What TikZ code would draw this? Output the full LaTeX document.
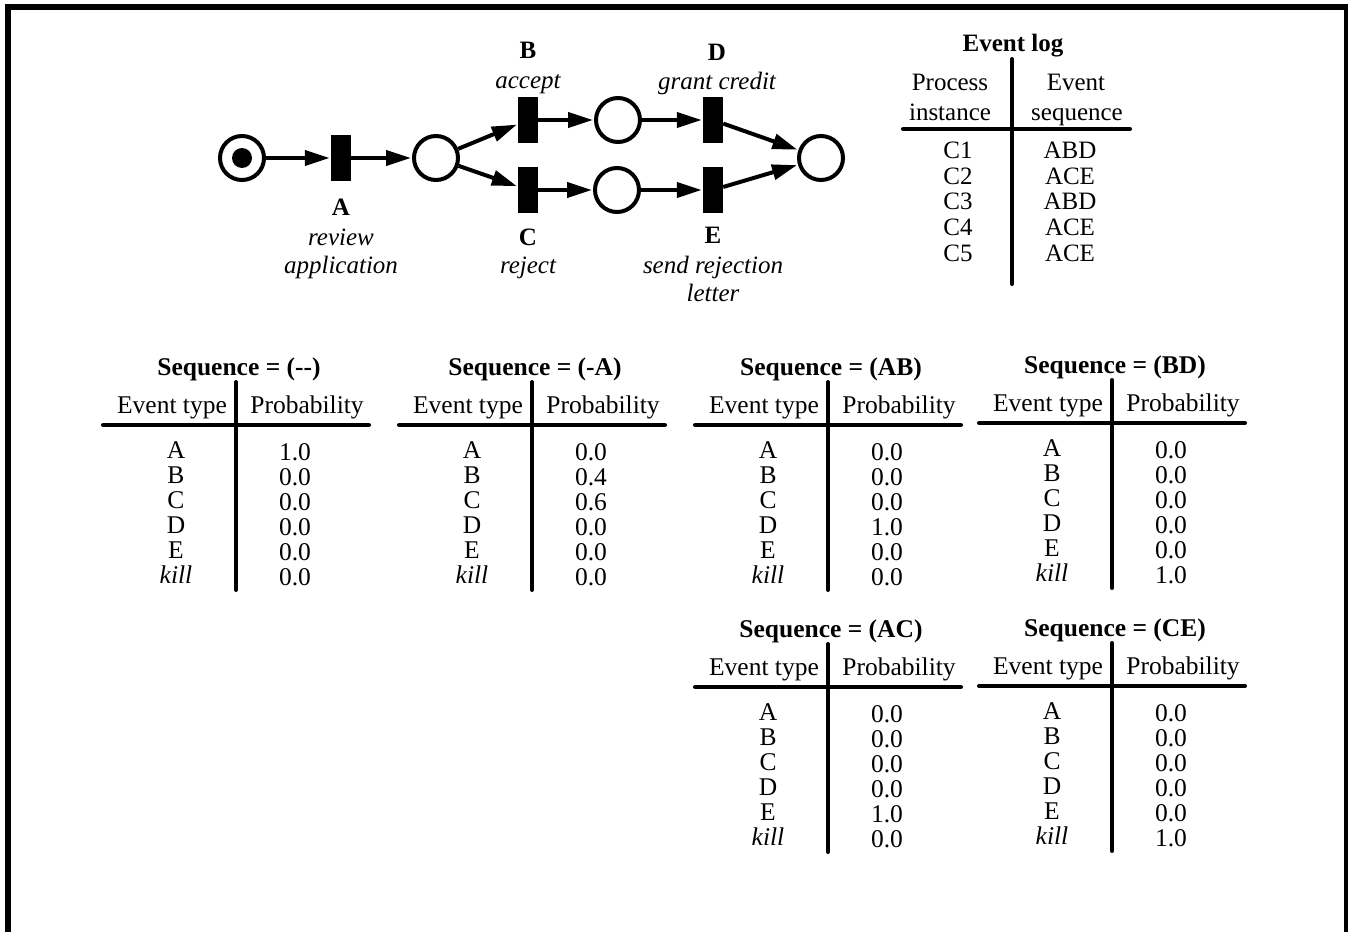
\documentclass[tikz,border=0pt]{standalone}
\usepackage{fontspec}
\setmainfont{Liberation Serif}
\usetikzlibrary{arrows.meta}
\newcommand\probtab[5]{%
  \node[ttl] (#1-t) at (#2+3,#3) {Sequence = #4};
  \coordinate (#1-vt) at (#2,#3+15);
  \coordinate (#1-vb) at (#2,#3+223);
  \coordinate (#1-hl) at (#2-133,#3+58);
  \coordinate (#1-hr) at (#2+133,#3+58);
  \draw[rule] (#1-vt) -- (#1-vb);
  \draw[rule] (#1-hl) -- (#1-hr);
  \node[tt] (#1-h1) at (#2-64,#3+38) {Event type};
  \node[tt] (#1-h2) at (#2+71,#3+38) {Probability};
  \foreach \e [count=\k from 0] in {A,B,C,D,E,\textit{kill}}
    {\node[tt] (#1-e\k) at (#2-60,#3+83+25*\k) {\e};}
  \foreach \v [count=\k from 0] in {#5}
    {\node[tt] (#1-v\k) at (#2+59,#3+85+25*\k) {\v};}
}
\begin{document}
\begin{tikzpicture}[x=1pt,y=-1pt,
  place/.style={circle,draw,line width=4pt,minimum size=44pt,inner sep=0pt},
  trans/.style={rectangle,fill=black,minimum width=20pt,minimum height=46pt,inner sep=0pt},
  arc/.style={line width=4pt,-{Triangle[length=25pt,width=15pt]},shorten >=1pt},
  rule/.style={line width=4pt,line cap=round},
  big/.style={inner sep=0pt,font=\fontsize{25}{29}\selectfont,text height=16.5pt,text depth=0pt},
  lb/.style={big,font=\fontsize{25}{29}\selectfont\bfseries},
  li/.style={big,font=\fontsize{25}{29}\selectfont\itshape},
  tt/.style={inner sep=0pt,font=\fontsize{25.5}{29}\selectfont,text height=16.8pt,text depth=0pt},
  ttl/.style={tt,font=\fontsize{25.5}{29}\selectfont\bfseries}]
\useasboundingbox (0,0) rectangle (1348,931);
% frame
\coordinate (f1) at (8,940);
\coordinate (f2) at (8,7);
\coordinate (f3) at (1347,7);
\coordinate (f4) at (1347,940);
\draw[line width=6pt] (f1) -- (f2) -- (f3) -- (f4);
% Petri net
\node[place] (p0) at (242,158) {};
\node[circle,fill=black,minimum size=20pt,inner sep=0pt] (tok) at (242,158) {};
\node[trans] (tA) at (341,158) {};
\node[place] (p1) at (436,158) {};
\node[trans] (tB) at (528,120) {};
\node[trans] (tC) at (528,190) {};
\node[place] (p2) at (618,120) {};
\node[place] (p3) at (617,190) {};
\node[trans] (tD) at (713,120) {};
\node[trans] (tE) at (713,190) {};
\node[place] (p4) at (821,158) {};
\draw[arc] (p0) -- (tA);
\draw[arc] (tA) -- (p1);
\draw[arc] (p1) -- (tB);
\draw[arc] (p1) -- (tC);
\draw[arc] (tB) -- (p2);
\draw[arc] (tC) -- (p3);
\draw[arc] (p2) -- (tD);
\draw[arc] (p3) -- (tE);
\draw[arc] (tD) -- (p4);
\draw[arc] (tE) -- (p4);
% labels
\node[lb] (lA) at (341,207) {A};
\node[li] (lA1) at (341,237) {review};
\node[li] (lA2) at (341,265) {application};
\node[lb] (lB) at (528,50) {B};
\node[li] (lB1) at (528,80) {accept};
\node[lb] (lD) at (717,52) {D};
\node[li] (lD1) at (717,81) {grant credit};
\node[lb] (lC) at (528,237) {C};
\node[li] (lC1) at (528,265) {reject};
\node[lb] (lE) at (713,235) {E};
\node[li] (lE1) at (713,265) {send rejection};
\node[li] (lE2) at (713,293) {letter};
% event log
\node[lb] (elt) at (1013,43) {Event log};
\node[big] (elh1) at (950,82) {Process};
\node[big] (elh2) at (950,112) {instance};
\node[big] (elh3) at (1076,82) {Event};
\node[big] (elh4) at (1077,112) {sequence};
\coordinate (elvt) at (1012,59);
\coordinate (elvb) at (1012,284);
\coordinate (elhl) at (903,129);
\coordinate (elhr) at (1130,129);
\draw[rule] (elvt) -- (elvb);
\draw[rule] (elhl) -- (elhr);
\foreach \c/\s [count=\k from 0] in {C1/ABD,C2/ACE,C3/ABD,C4/ACE,C5/ACE}
  {\node[big] (elc\k) at (958,150+25.8*\k) {\c};
   \node[big] (els\k) at (1070,150+25.8*\k) {\s};}
% probability tables
\probtab{t1}{236}{367}{(-{}-)}{1.0,0.0,0.0,0.0,0.0,0.0}
\probtab{t2}{532}{367}{(-A)}{0.0,0.4,0.6,0.0,0.0,0.0}
\probtab{t3}{828}{367}{(AB)}{0.0,0.0,0.0,1.0,0.0,0.0}
\probtab{t4}{1112}{365}{(BD)}{0.0,0.0,0.0,0.0,0.0,1.0}
\probtab{t5}{828}{629}{(AC)}{0.0,0.0,0.0,0.0,1.0,0.0}
\probtab{t6}{1112}{628}{(CE)}{0.0,0.0,0.0,0.0,0.0,1.0}
\end{tikzpicture}
\end{document}
